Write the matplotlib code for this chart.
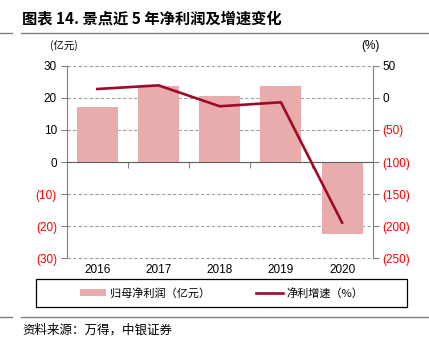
import matplotlib
matplotlib.use('Agg')
import matplotlib.pyplot as plt
from matplotlib.lines import Line2D
from matplotlib.patches import Rectangle

plt.rcParams['font.family'] = ['Liberation Sans', 'Noto Sans CJK SC', 'DejaVu Sans']

years = ['2016', '2017', '2018', '2019', '2020']
profit = [17.0, 23.8, 20.7, 23.7, -22.3]        # 亿元
growth = [13.7, 19.4, -13.2, -7.0, -194.5]      # %

left_ticks = [-30, -20, -10, 0, 10, 20, 30]
right_ticks = [-250, -200, -150, -100, -50, 0, 50]

bar_color = '#E9ACAC'
line_color = '#A00A28'
neg_color = '#FF0000'
grey = '#808080'
cjk = ['Noto Sans CJK SC', 'DejaVu Sans']


def paren(v):
    return '(%d)' % abs(v) if v < 0 else '%d' % v


fig = plt.figure(figsize=(4.29, 3.44), dpi=100)
W, H = 429, 344
ax = fig.add_axes([66.7 / W, 1 - 258.3 / H, 306 / W, 192.6 / H])
ax2 = ax.twinx()

x = list(range(len(years)))
ax.bar(x, profit, width=0.67, color=bar_color, zorder=2, label='归母净利润（亿元）')
ax2.plot(x, growth, color=line_color, lw=1.9, zorder=3, label='净利增速（%）')

ax.set_xlim(-0.5, len(years) - 0.5)
ax2.set_ylim(-250, 50)

# axis tick labels
ax.set_yticks(left_ticks, [paren(v) for v in left_ticks])
ax2.set_yticks(right_ticks, [paren(v) for v in right_ticks])
for lab, v in zip(ax.get_yticklabels(), left_ticks):
    lab.set_color(neg_color if v < 0 else 'black')
for lab, v in zip(ax2.get_yticklabels(), right_ticks):
    lab.set_color(neg_color if v < 0 else 'black')
ax.tick_params(axis='y', length=4, color=grey, labelsize=8.5, pad=3)
ax2.tick_params(axis='y', length=4, color=grey, labelsize=8.5, pad=3)

# grid
ax.set_axisbelow(True)
ax.yaxis.grid(True, linestyle=(0, (3, 2)), color='#A0A0A0', lw=0.8, clip_on=False)
ax.set_ylim(-30, 30)

# spines
for a in (ax, ax2):
    a.spines['top'].set_visible(False)
    a.spines['left'].set_color(grey)
    a.spines['right'].set_color(grey)
ax2.spines['bottom'].set_visible(False)
ax2.spines['left'].set_visible(False)
ax.spines['right'].set_visible(False)

# zero line with ticks at category boundaries
ax.spines['bottom'].set_position(('data', 0))
ax.spines['bottom'].set_color('#606060')
ax.set_xticks([i + 0.5 for i in x], [''] * len(x))
ax.tick_params(axis='x', length=4, color=grey, direction='out')

# year labels at bottom
sec = ax.secondary_xaxis('bottom')
sec.set_xticks(x, years)
sec.tick_params(length=0, labelsize=8.5, pad=4)
sec.spines['bottom'].set_visible(False)

# unit labels
fig.text(64 / W, 1 - 46 / H, '(亿元)', ha='center', va='center', fontsize=7.5, family=cjk)
fig.text(370 / W, 1 - 46 / H, '(%)', ha='center', va='center', fontsize=8.5)

# title and rules
fig.text(22 / W, 1 - 18 / H, '图表 14. 景点近 5 年净利润及增速变化', ha='left', va='center',
         fontsize=11, fontweight='bold', family=cjk)
for yy in (33, 317):
    fig.add_artist(Line2D([21 / W, 1], [1 - yy / H] * 2, color=grey, lw=1.0))
    fig.add_artist(Line2D([0, 12 / W], [1 - yy / H] * 2, color=grey, lw=1.0))

# legend
fig.add_artist(Rectangle((36 / W, 1 - 307 / H), 371 / W, 28 / H, fill=False,
                         edgecolor='black', lw=0.9, transform=fig.transFigure))
h1, l1 = ax.get_legend_handles_labels()
h2, l2 = ax2.get_legend_handles_labels()
fig.legend(h1 + h2, l1 + l2, loc='center', bbox_to_anchor=(221.5 / W, 1 - 293 / H),
           ncol=2, frameon=False, handlelength=2.4, handleheight=0.6, handletextpad=0.3,
           columnspacing=4.2, prop={'family': cjk, 'size': 8})

# source
fig.text(22 / W, 1 - 330 / H, '资料来源：万得，中银证券', ha='left', va='center',
         fontsize=9, style='italic', family=cjk)

fig.savefig('out.png', dpi=100)
